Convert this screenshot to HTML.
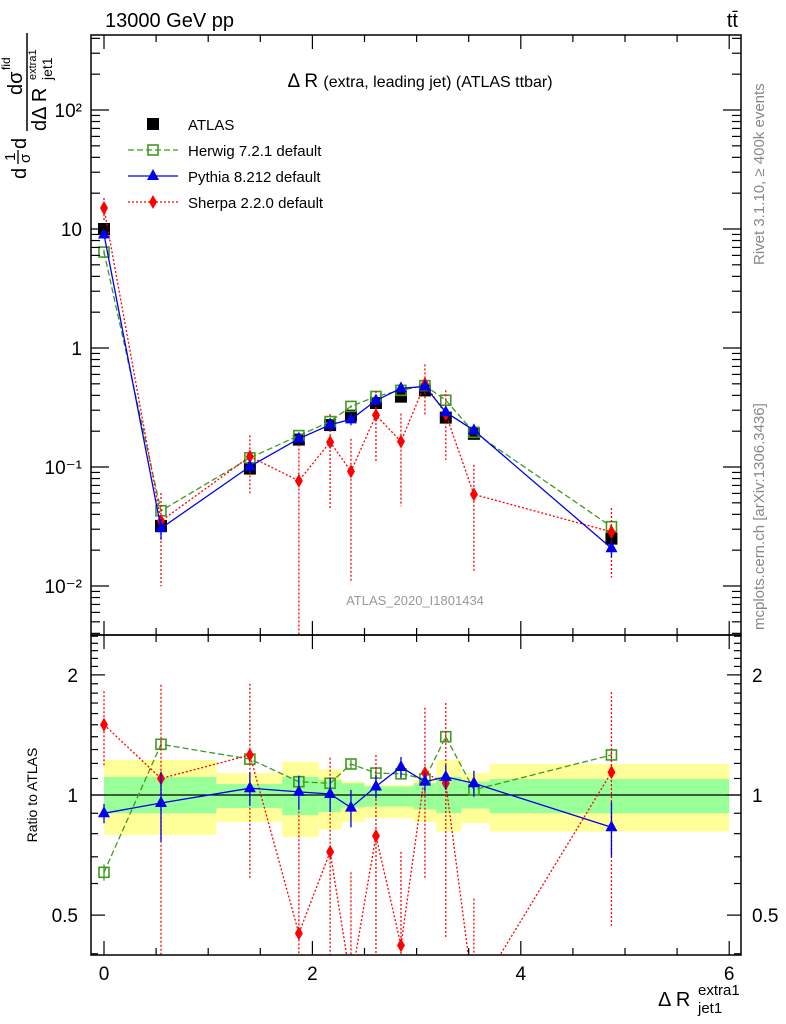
<!DOCTYPE html>
<html><head><meta charset="utf-8"><style>
html,body{margin:0;background:#fff;overflow:hidden;width:786px;height:1024px;}
svg{display:block;font-family:"Liberation Sans",sans-serif;}
</style></head><body>
<svg id="c" width="786" height="1024" viewBox="0 0 786 1024" xmlns="http://www.w3.org/2000/svg">
<defs>
<clipPath id="cm"><rect x="91" y="35" width="650" height="600"/></clipPath>
<clipPath id="cr"><rect x="91" y="635" width="650" height="320"/></clipPath>
</defs>
<g id="bands" clip-path="url(#cr)"></g>
<g id="marks"></g>
<rect x="91" y="35" width="650" height="600" fill="none" stroke="#000" stroke-width="1.5"/>
<rect x="91" y="635" width="650" height="320" fill="none" stroke="#000" stroke-width="1.5"/>
<g id="ticks"></g>
<text x="105" y="27" font-size="20">13000 GeV pp</text>
<text x="738" y="27" font-size="20" text-anchor="end">tt̄</text>
<text x="420" y="87" font-size="19" text-anchor="middle">Δ R <tspan font-size="16">(extra, leading jet) (ATLAS ttbar)</tspan></text>
<text x="415" y="605" font-size="13" fill="#999" text-anchor="middle">ATLAS_2020_I1801434</text>
<text transform="translate(764,265) rotate(-90)" font-size="15" fill="#888">Rivet 3.1.10, ≥ 400k events</text>
<text transform="translate(764,630) rotate(-90)" font-size="15" fill="#888">mcplots.cern.ch [arXiv:1306.3436]</text>
<g transform="rotate(-90)">
<text x="-179" y="26" font-size="20">d</text>
<text x="-161" y="15" font-size="15">1</text>
<line x1="-164" x2="-150" y1="18" y2="18" stroke="#000" stroke-width="1.3"/>
<text x="-163" y="30" font-size="15">σ</text>
<text x="-149" y="26" font-size="20">d</text>
<line x1="-131" x2="-33" y1="27" y2="27" stroke="#000" stroke-width="1.5"/>
<text x="-95" y="22" font-size="20">dσ</text>
<text x="-70" y="10" font-size="12">fid</text>
<text x="-131" y="46" font-size="20">dΔ R</text>
<text x="-80" y="52" font-size="14">jet1</text>
<text x="-80" y="36" font-size="11">extra1</text>
</g>
<text transform="translate(37,795) rotate(-90)" font-size="14" text-anchor="middle">Ratio to ATLAS</text>
<g><text x="658" y="1006" font-size="20">Δ R</text><text x="698" y="1013" font-size="15">jet1</text><text x="698" y="995" font-size="15">extra1</text></g>
<g id="legend" font-size="15"></g>
</svg>
<script>
const xs=[0,0.547,1.40,1.87,2.17,2.37,2.61,2.85,3.08,3.28,3.55,4.87];
const atlas=[10,0.032,0.097,0.17,0.225,0.27,0.345,0.39,0.44,0.26,0.19,0.025];
const herwigR=[0.64,1.34,1.23,1.08,1.07,1.196,1.135,1.13,1.097,1.40,1.03,1.26];
const herwigE=[0.03,0.04,0.03,0.03,0.03,0.03,0.03,0.03,0.03,0.04,0.03,0.04];
const pythiaR=[0.90,0.955,1.04,1.018,1.006,0.93,1.05,1.175,1.08,1.11,1.07,0.83];
const pythiaE=[0.05,0.19,0.1,0.1,0.1,0.1,0.07,0.07,0.06,0.08,0.08,0.13];
const sherpaR=[1.50,1.10,1.26,0.45,0.72,0.34,0.79,0.42,1.135,1.07,0.31,1.14];
const sherpaE=[0.32,0.79,0.64,0.46,0.52,0.30,0.47,0.30,0.52,0.63,0.24,0.67];
const bandEdges=[0,1.08,1.71,2.06,2.28,2.5,2.97,3.19,3.43,3.7,6.0];
const yelHi=[1.224,1.135,1.21,1.16,1.08,1.06,1.09,1.224,1.135,1.196];
const yelLo=[0.794,0.856,0.785,0.82,0.856,0.876,0.856,0.81,0.85,0.81];
const grnHi=[1.11,1.065,1.11,1.09,1.07,1.05,1.07,1.11,1.08,1.097];
const grnLo=[0.90,0.928,0.89,0.906,0.93,0.935,0.92,0.90,0.925,0.90];
const xTicks=[0,2,4,6];
const mainTicks=[0.01,0.1,1,10,100];
const mainLabels=["10⁻²","10⁻¹","1","10","10²"];
const ratioTicks=[0.5,1,2];
const ratioLabels=["0.5","1","2"];

const NS="http://www.w3.org/2000/svg";
const X=v=>104+v*104.2;
const YM=v=>348-119*Math.log10(v);
const YR=v=>795-399*Math.log10(v);
function mk(tag,at,parent){const e=document.createElementNS(NS,tag);for(const k in at)e.setAttribute(k,at[k]);parent.appendChild(e);return e;}
const bands=document.getElementById('bands'),marks=document.getElementById('marks'),ticks=document.getElementById('ticks'),legend=document.getElementById('legend');

for(let i=0;i<yelHi.length;i++){
 const x0=X(bandEdges[i]),x1=X(bandEdges[i+1]);
 let r=mk('rect',{x:x0,y:YR(yelHi[i]),width:x1-x0,height:YR(yelLo[i])-YR(yelHi[i]),fill:'#ffff99'},bands);
 
 
 r=mk('rect',{x:x0,y:YR(grnHi[i]),width:x1-x0,height:YR(grnLo[i])-YR(grnHi[i]),fill:'#99ff99'},bands);
 
 
}
let ref=mk('line',{x1:91,x2:741,y1:YR(1),y2:YR(1),stroke:'#000','stroke-width':1.3},bands);



function marker(type,x,y,color,g){
 let e;
 if(type==='sq') e=mk('rect',{x:x-6,y:y-6,width:12,height:12,fill:'#000'},g);
 else if(type==='osq') e=mk('rect',{x:x-5,y:y-5,width:10,height:10,fill:'none',stroke:color,'stroke-width':1.6},g);
 else if(type==='tri') e=mk('path',{d:`M${x},${y-7}L${x+6},${y+4}L${x-6},${y+4}Z`,fill:color},g);
 else e=mk('path',{d:`M${x},${y-7}L${x+4},${y}L${x},${y+7}L${x-4},${y}Z`,fill:color},g);
 return e;
}
function series(name,vals,errs,isRatio,color,dash,type,clip){
 const g=mk('g',{'clip-path':`url(#${clip})`},marks);
 
 
 const Y=isRatio?YR:YM;
 const val=i=>isRatio?vals[i]:vals[i]*atlas[i];
 const er=i=>isRatio?errs[i]:errs[i]*atlas[i];
 const pts=xs.map((x,i)=>X(x)+','+Y(val(i)).toFixed(1)).join(' ');
 const ln=mk('polyline',{points:pts,fill:'none',stroke:color,'stroke-width':1.3,'stroke-dasharray':dash},g);
 
 
 xs.forEach((x,i)=>{
  const lo=val(i)-er(i);
  const yl=lo>0?Math.min(Y(lo),960):960;
  const e=mk('line',{x1:X(x),x2:X(x),y1:Y(val(i)+er(i)),y2:yl,stroke:color,'stroke-width':1.3,'stroke-dasharray':type==='dia'?'2,2':''},g);
  
  
  const m=marker(type,X(x),Y(val(i)),color,g);
  
  
 });
}
(function(){
 const g=mk('g',{'clip-path':'url(#cm)'},marks);
 
 
 xs.forEach((x,i)=>{
  const m=marker('sq',X(x),YM(atlas[i]),'#000',g);
  
  
 });
})();
const GR='#3f9a1f',BL='#0000ee',RD='#ff0000';
series('herwig-main',herwigR,herwigE,false,GR,'6,3','osq','cm');
series('sherpa-main',sherpaR,sherpaE,false,RD,'2,2','dia','cm');
series('pythia-main',pythiaR,pythiaE,false,BL,'','tri','cm');
series('herwig-ratio',herwigR,herwigE,true,GR,'6,3','osq','cr');
series('sherpa-ratio',sherpaR,sherpaE,true,RD,'2,2','dia','cr');
series('pythia-ratio',pythiaR,pythiaE,true,BL,'','tri','cr');

function tk(x1,y1,x2,y2,name){const t=mk('line',{x1,y1,x2,y2,stroke:'#000','stroke-width':1.2},ticks);}
function lbl(x,y,s,anchor,name,fs){const t=mk('text',{x,y,'font-size':fs||19,'text-anchor':anchor},ticks);t.textContent=s;}
for(let v=0;v<=6.001;v+=0.5){
 const x=X(v),L=(Math.abs(v%2)<0.01)?14:7;
 tk(x,635,x,635-L,'x-tick');tk(x,35,x,35+L,'x-tick');
 tk(x,955,x,955-L,'x-tick');tk(x,635,x,635+L,'x-tick');
}
xTicks.forEach(v=>lbl(X(v),980,String(v),'middle','x-tick-label'));
for(let d=-3;d<=2;d++)for(let k=1;k<10;k++){
 const v=k*Math.pow(10,d),y=YM(v);if(y<35||y>635)continue;
 const L=k===1?18:9;tk(91,y,91+L,y,'main-y-tick');tk(741,y,741-L,y,'main-y-tick');
}
mainTicks.forEach((v,i)=>lbl(82,YM(v)+7,mainLabels[i],'end','main-y-tick-label'));
for(let v=0.4;v<=2.55;v+=0.1){
 const y=YR(v);if(y<635||y>955)continue;
 const major=[0.5,1,2].some(m=>Math.abs(m-v)<0.01);const L=major?14:7;
 tk(91,y,91+L,y,'ratio-y-tick');tk(741,y,741-L,y,'ratio-y-tick');
}
ratioTicks.forEach((v,i)=>{lbl(78,YR(v)+7,ratioLabels[i],'end','ratio-y-tick-label');lbl(752,YR(v)+7,ratioLabels[i],'start','ratio-y-tick-label-right');});

const legNames=['ATLAS','Herwig 7.2.1 default','Pythia 8.212 default','Sherpa 2.2.0 default'];
const legTypes=['sq','osq','tri','dia'];
const legCols=['#000',GR,BL,RD];
const legDash=['','6,3','','2,2'];
legNames.forEach((n,i)=>{
 const y=124+i*26;
 const g=mk('g',{},legend);
 
 
 if(i>0)mk('line',{x1:128,x2:178,y1:y,y2:y,stroke:legCols[i],'stroke-width':1.3,'stroke-dasharray':legDash[i]},g);
 marker(legTypes[i],153,y,legCols[i],g);
 const t=mk('text',{x:188,y:y+6,'font-size':15},g);t.textContent=n;
});
</script>
</body></html>
